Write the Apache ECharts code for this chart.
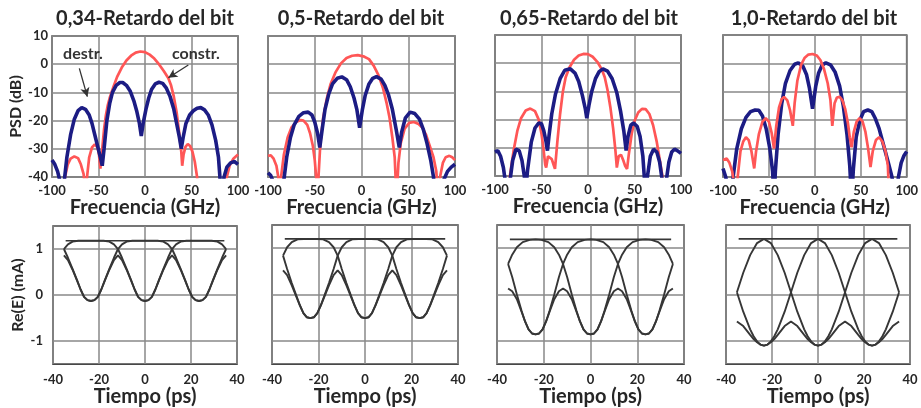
<!DOCTYPE html>
<html><head><meta charset="utf-8">
<script src="https://cdn.jsdelivr.net/npm/echarts@6/dist/echarts.min.js"></script>
<style>html,body{margin:0;padding:0;background:#fff}#c{width:921px;height:408px}</style>
</head><body><div id="c"></div>
<script>
// ---------- text ----------
const titles = ['0,34-Retardo del bit', '0,5-Retardo del bit', '0,65-Retardo del bit', '1,0-Retardo del bit'];
const psdXName = 'Frecuencia (GHz)';
const psdYName = 'PSD (dB)';
const eyeXName = 'Tiempo (ps)';
const eyeYName = 'Re(E) (mA)';
const eyeYTicks = [-1, 0, 1];
const annotDestr = 'destr.';
const annotConstr = 'constr.';

// ---------- PSD data [GHz, dB] ----------
const psdConstr034 = [[-100,-48],[-90,-46],[-86,-40],[-83,-35.5],[-80,-33.5],[-76,-32.7],[-72,-33.3],[-69,-35.5],[-66,-39],[-64,-46],[-62,-39],[-60,-33],[-57,-29.5],[-54,-28.4],[-51,-29.5],[-49.5,-32],[-48,-37],[-46,-30],[-44,-23],[-42,-18],[-40,-14.5],[-38,-12],[-36,-10],[-33.6,-7.7],[-30,-4.5],[-25,-1.2],[-20,1.3],[-15,3],[-10,4.1],[-5,4.5],[0,4.3],[5,3.4],[10,2],[15,0],[20,-2.3],[25,-4.9],[28,-7.5],[31,-11.5],[34,-17],[37,-25],[39,-31],[40,-36],[41.5,-32],[43.5,-29.3],[46,-28.3],[48.5,-29],[51,-31],[53.5,-34.5],[56,-40],[58,-47],[70,-52],[84,-46],[88,-40],[91,-36],[95,-33.5],[100,-32]];
const psdDestr034 = [[-100,-34],[-97,-35.5],[-94,-38],[-91,-42],[-89,-48],[-87,-42],[-84,-33],[-80,-25],[-76,-19.5],[-72,-16.5],[-68,-15.4],[-64,-16],[-60,-18],[-57,-21],[-54,-25],[-51,-29],[-48,-33],[-46,-36],[-44,-30],[-41,-20],[-38,-14],[-35,-10],[-31,-7.5],[-27,-6.5],[-24,-6.5],[-20,-7.5],[-16,-9.5],[-12,-13],[-9,-16.5],[-6,-21],[-4,-25.5],[-2,-21],[1,-16],[4,-12],[7,-9],[11,-7],[15,-6.4],[19,-6.8],[23,-8.5],[27,-11.5],[31,-16],[34,-21],[37,-26],[39,-30],[41,-26],[44,-21],[48,-18],[52,-16.5],[56,-15.6],[60,-15.4],[64,-16.2],[68,-18],[72,-21.5],[76,-27],[79,-33],[81,-42],[83,-46],[85,-40],[88,-36.5],[92,-35],[96,-34.5],[100,-35.5]];

const psdConstr05 = [[-100,-32.5],[-97,-32.3],[-94,-33.5],[-91,-36],[-89,-40],[-87.5,-48],[-86,-40],[-83,-32],[-79,-26],[-75,-22.5],[-70,-20.5],[-65,-19.8],[-62,-20],[-58,-21.5],[-55,-24.5],[-52,-29],[-50,-34],[-48,-42],[-47,-48],[-46,-40],[-44,-28],[-41,-19],[-37,-12],[-33,-7],[-28,-3],[-22,0.3],[-16,2.2],[-10,3],[-4,3.2],[2,2.8],[8,1.8],[13,-0.5],[18,-3.8],[23,-8.5],[27,-14],[30,-19],[33,-26],[35.5,-33],[37.5,-48],[39.5,-35],[42,-28],[46,-23],[51,-20.8],[56,-20.5],[61,-21.2],[65,-22.5],[69,-25],[73,-29],[77,-33],[80,-38],[82,-48],[84,-40],[87,-35],[90,-33],[94,-32.5],[97,-33],[100,-34]];
const psdDestr05 = [[-100,-38.5],[-97,-39.5],[-94,-42],[-90,-48],[-86,-45],[-83,-41],[-80,-33],[-76,-26],[-72,-21.5],[-67,-18.5],[-62,-17.2],[-57,-17],[-53,-18],[-50,-20.5],[-47,-24.5],[-44.6,-29.5],[-42,-23],[-39,-16],[-35,-10.5],[-31,-7],[-26,-5],[-21,-4.5],[-16,-5.5],[-12,-8],[-8,-12],[-5,-16],[-2,-22.5],[1,-16],[4,-11],[8,-7],[12,-5],[16,-4.4],[21,-5.3],[25,-7.5],[29,-11],[33,-16],[37,-23],[40.4,-29.5],[43,-24],[47,-19],[52,-17],[57,-17.5],[62,-19.5],[66,-23],[70,-28],[74,-34],[77,-40],[79,-48],[84,-46],[88,-41],[92,-38],[96,-36.5],[100,-35.5]];

const psdConstr065 = [[-100,-50],[-88,-48],[-84,-40],[-80,-31],[-76,-24],[-72,-19.5],[-67,-16.8],[-62,-16.1],[-57,-17],[-53,-20],[-50,-25],[-48,-30],[-46,-36],[-45,-37],[-43,-33],[-41,-32.5],[-39,-34],[-37,-36],[-35.5,-37.5],[-33,-28],[-30,-18],[-27,-10],[-24,-5],[-20,-1.5],[-15,1.2],[-10,2.7],[-5,3.3],[0,3.2],[5,2.3],[10,0.5],[15,-2.3],[18,-5],[21,-9.5],[24,-15.5],[27,-23],[29.5,-31],[31,-37],[33,-33],[35.5,-32.5],[38,-34.5],[40,-36.5],[42,-37.5],[44,-32],[47,-25],[50,-20.5],[54,-17.5],[58,-16.2],[62,-16.3],[66,-18],[70,-22],[74,-28],[77,-34],[80,-40],[83,-48],[100,-50]];
const psdDestr065 = [[-100,-31.5],[-97,-31],[-94,-33],[-91,-37],[-88,-44],[-86,-48],[-84,-42],[-81,-34.5],[-77.5,-30.5],[-74,-31],[-71,-34.5],[-68.5,-40],[-67,-45],[-65,-38],[-61,-28],[-57,-23],[-53,-21.2],[-50,-21.5],[-47.5,-24],[-45,-28],[-43.6,-31],[-42,-26],[-39,-18],[-35,-11],[-30,-5.5],[-25,-2.5],[-19,-2],[-14,-3.5],[-10,-6.5],[-6,-11.5],[-3,-16],[-1.3,-19.5],[1,-15],[4,-10],[8,-5.5],[12,-3],[16,-2],[21,-2.8],[26,-5.5],[31,-10.5],[35,-17],[38.5,-24],[41,-31],[43,-26],[46,-22],[49,-21.2],[53,-22.5],[56,-26],[59,-33],[61.5,-45],[64,-40],[67,-33],[70.5,-30.5],[74,-31.5],[77,-35],[80,-42],[82,-48],[84,-42],[87,-35],[90,-31.5],[93,-30.5],[96,-31],[100,-32]];

const psdConstr10 = [[-100,-34],[-96,-33.5],[-93,-35],[-90,-38],[-87,-44],[-85.5,-48],[-84,-40],[-81,-31],[-78,-27.5],[-75,-26],[-72,-27],[-69,-31],[-66,-37],[-64,-31],[-61,-25],[-57,-20.5],[-53.5,-19.3],[-50,-20.5],[-47,-24.5],[-44.5,-30],[-42,-22],[-39,-15.5],[-36,-12.5],[-33.5,-11.8],[-30,-13],[-27,-16.5],[-24,-22],[-22,-14],[-19,-6],[-15,-0.5],[-11,2],[-7,3.1],[-2.5,3.3],[2,2.8],[6,1.2],[10,-2],[14,-7],[17,-13],[19,-22],[21.5,-14],[24,-12],[27,-11.8],[30,-13],[33,-16],[36,-21],[38,-26],[40,-29.5],[42.5,-24],[45.5,-20.5],[48.7,-19.3],[52,-20.5],[55,-24],[58,-30],[60.6,-36.5],[63,-31],[66.5,-27],[70,-26],[73.5,-27.5],[77,-31],[79.5,-36],[81,-48],[100,-50]];
const psdDestr10 = [[-100,-37],[-97,-40],[-94,-46],[-91,-48],[-89,-40],[-85,-30],[-80,-23],[-75,-19],[-70,-17],[-65,-16.4],[-61,-16.5],[-57,-18.5],[-53,-23],[-49,-30],[-46,-38],[-44.4,-48],[-43,-38],[-40,-25],[-36,-14],[-32,-7],[-27,-2.5],[-22,-0.3],[-18,0.2],[-13,-1],[-9,-4],[-6,-8.5],[-2.5,-16],[1,-8],[4,-3.5],[8,-0.6],[12,0.2],[17,-0.5],[22,-3],[27,-8],[31,-15],[35,-25],[38,-36],[40,-48],[42,-37],[45,-26],[49,-20],[53,-17],[57.7,-16.4],[62,-17],[66,-19.5],[70,-23],[75,-29],[80,-35],[84,-40],[86,-46],[88,-48],[91,-40],[94,-35],[97,-32.5],[100,-31]];

// ---------- eye-diagram data ----------
// bit-slot centres (ps) and the read transition shapes: [offset from a "0" slot centre (ps), Re(E) (mA)]
const eyeSlots = [-47, -23.5, 0, 23.5, 47];
const eyePatterns = [[0,1,0,1,0],[1,0,1,0,1],[0,0,0,0,0]];
const eyeTop034 = 1.18;
const eyeRise034 = [[0,-0.13],[1.5,-0.11],[3,-0.04],[4.5,0.12],[6,0.32],[8,0.57],[10,0.81],[11.75,1.0],[13.5,1.1],[15.5,1.16],[18,1.18],[23.5,1.18]];
const eyeBump034 = [[0,-0.13],[1.5,-0.11],[3,-0.04],[4.5,0.12],[6,0.31],[8,0.55],[10,0.76],[11.75,0.86]];
const eyeTop05 = 1.2;
const eyeRise05 = [[0,-0.51],[1.5,-0.49],[3,-0.4],[4.5,-0.23],[6,-0.03],[8,0.25],[10,0.55],[11.75,0.84],[13.5,1.02],[15.5,1.13],[18,1.19],[23.5,1.2]];
const eyeBump05 = [[0,-0.51],[1.5,-0.49],[3,-0.4],[4.5,-0.24],[6,-0.05],[8,0.2],[10,0.42],[11.75,0.52]];
const eyeTop065 = 1.19;
const eyeRise065 = [[0,-0.86],[1.5,-0.84],[3,-0.75],[4.5,-0.58],[6,-0.35],[8,0.0],[10,0.38],[11.75,0.66],[13.5,0.86],[15.5,1.02],[18,1.13],[21,1.18],[23.5,1.19]];
const eyeBump065 = [[0,-0.86],[1.5,-0.84],[3,-0.75],[4.5,-0.58],[6,-0.37],[8,-0.1],[10,0.07],[11.75,0.13]];
const eyeTop10 = 1.2;
const eyeRise10 = [[0,-1.1],[1.5,-1.08],[3,-1.01],[4.5,-0.9],[6,-0.75],[9,-0.37],[11.75,0.05],[14.5,0.47],[17.5,0.85],[20.5,1.11],[23.5,1.2]];
const eyeBump10 = [[0,-1.1],[1.5,-1.08],[3,-1.03],[4.5,-0.96],[6,-0.87],[9,-0.68],[11.75,-0.58]];
const eyeWindow = [-35.3, 35.3];
const eyeRailSpan = [-34.5, 34.5];

// ---------- build ----------
function segment(rise, bump, a, b, bitA, bitB, top) {
  if (bitA === 0 && bitB === 1) return rise.map(([d, v]) => [a + d, v]);
  if (bitA === 1 && bitB === 0) return rise.map(([d, v]) => [b - d, v]).reverse();
  if (bitA === 1 && bitB === 1) return [[a, top], [b, top]];
  const left = bump.map(([d, v]) => [a + d, v]);
  const right = bump.slice(0, -1).map(([d, v]) => [b - d, v]).reverse();
  return left.concat(right);
}
function eyeTrace(rise, bump, pattern, top) {
  let pts = [];
  for (let i = 0; i < eyeSlots.length - 1; i++) {
    const seg = segment(rise, bump, eyeSlots[i], eyeSlots[i + 1], pattern[i], pattern[i + 1], top);
    if (pts.length) seg.shift();
    pts = pts.concat(seg);
  }
  return pts.filter(p => p[0] >= eyeWindow[0] && p[0] <= eyeWindow[1]);
}

const psdPanels = [
  {constr: psdConstr034, destr: psdDestr034},
  {constr: psdConstr05, destr: psdDestr05},
  {constr: psdConstr065, destr: psdDestr065},
  {constr: psdConstr10, destr: psdDestr10}
];
const eyePanels = [
  {rise: eyeRise034, bump: eyeBump034, top: eyeTop034},
  {rise: eyeRise05, bump: eyeBump05, top: eyeTop05},
  {rise: eyeRise065, bump: eyeBump065, top: eyeTop065},
  {rise: eyeRise10, bump: eyeBump10, top: eyeTop10}
];

const FONT = 'Lato, "Open Sans", "DejaVu Sans", sans-serif';
const TXT = '#262626';
const GRIDC = '#888888';
const BORDER = '#484848';
const RED = '#ff5656';
const BLUE = '#1c1c84';
const EYE = '#363636';

const topGrids = [
  {left: 52, top: 36, width: 186, height: 141},
  {left: 268, top: 36, width: 187, height: 141},
  {left: 495, top: 35, width: 186, height: 141},
  {left: 723, top: 35, width: 186, height: 142}
];
const botGrids = [
  {left: 53, top: 226, width: 184, height: 141},
  {left: 272, top: 225, width: 186, height: 142},
  {left: 497, top: 225, width: 187, height: 142},
  {left: 726, top: 225, width: 184, height: 142}
];
const titleX = [145, 361, 589, 814];

const grid = topGrids.concat(botGrids).map(g => Object.assign({show: true, borderColor: BORDER, borderWidth: 1.6, backgroundColor: '#fff'}, g));
const labelStyle = {fontFamily: FONT, fontWeight: 'bold', fontSize: 13, color: TXT};
const nameStyle = {fontFamily: FONT, fontWeight: 'bold', fontSize: 20, color: TXT};
const split = {show: true, lineStyle: {color: GRIDC, width: 1.5}};

const xAxis = [], yAxis = [], series = [];
for (let i = 0; i < 4; i++) {
  xAxis.push({gridIndex: i, type: 'value', min: -100, max: 100, interval: 50,
    axisLine: {show: false}, axisTick: {show: false}, splitLine: split,
    axisLabel: Object.assign({margin: 7}, labelStyle),
    name: psdXName, nameLocation: 'middle', nameGap: 14, nameTextStyle: nameStyle});
  yAxis.push({gridIndex: i, type: 'value', min: -40, max: 10, interval: 10,
    axisLine: {show: false}, axisTick: {show: false}, splitLine: split,
    axisLabel: Object.assign({show: i === 0, margin: 4}, labelStyle),
    name: i === 0 ? psdYName : '', nameLocation: 'middle', nameGap: 26, nameRotate: 90,
    nameTextStyle: Object.assign({}, nameStyle, {fontSize: 16})});
}
for (let i = 0; i < 4; i++) {
  const gi = 4 + i;
  xAxis.push({gridIndex: gi, type: 'value', min: -40, max: 40, interval: 20,
    axisLine: {show: false}, axisTick: {show: false}, splitLine: split,
    axisLabel: Object.assign({margin: 9}, labelStyle),
    name: eyeXName, nameLocation: 'middle', nameGap: 22, nameTextStyle: nameStyle});
  yAxis.push({gridIndex: gi, type: 'value', min: -1.5, max: 1.5,
    axisLine: {show: false}, axisTick: {show: false, customValues: eyeYTicks}, splitLine: split,
    axisLabel: Object.assign({show: i === 0, margin: 10, customValues: eyeYTicks}, labelStyle),
    name: i === 0 ? eyeYName : '', nameLocation: 'middle', nameGap: 27, nameRotate: 90,
    nameTextStyle: Object.assign({}, nameStyle, {fontSize: 16})});
}

psdPanels.forEach((p, i) => {
  series.push({type: 'line', xAxisIndex: i, yAxisIndex: i, data: p.constr, showSymbol: false, symbol: 'none',
    lineStyle: {color: RED, width: 2.7}, z: i === 3 ? 4 : 2, clip: true});
  const blue = {type: 'line', xAxisIndex: i, yAxisIndex: i, data: p.destr, showSymbol: false, symbol: 'none',
    lineStyle: {color: BLUE, width: 3.6}, z: 3, clip: true};
  if (i === 0) {
    blue.markLine = {silent: true, symbol: ['none', 'arrow'], symbolSize: [7, 9], animation: false,
      lineStyle: {color: '#333', width: 1.3, type: 'solid'}, label: {show: false},
      data: [[{coord: [-70.6, -1.5]}, {coord: [-62, -11.5]}], [{coord: [46.6, -0.3]}, {coord: [25.1, -4.8]}]]};
    blue.markPoint = {silent: true, symbol: 'circle', symbolSize: 1, itemStyle: {color: 'rgba(0,0,0,0)'}, animation: false,
      label: {show: true, position: 'inside', formatter: '{b}', fontFamily: FONT, fontWeight: 'bold', fontSize: 16, color: '#333'},
      data: [{name: annotDestr, coord: [-66.7, 3.6]}, {name: annotConstr, coord: [54.8, 3.6]}]};
  }
  series.push(blue);
});

eyePanels.forEach((p, i) => {
  const gi = 4 + i;
  series.push({type: 'line', xAxisIndex: gi, yAxisIndex: gi, data: [[eyeRailSpan[0], p.top], [eyeRailSpan[1], p.top]],
    showSymbol: false, symbol: 'none', lineStyle: {color: EYE, width: 1.6}});
  eyePatterns.forEach(pat => {
    series.push({type: 'line', xAxisIndex: gi, yAxisIndex: gi, data: eyeTrace(p.rise, p.bump, pat, p.top),
      showSymbol: false, symbol: 'none', lineStyle: {color: EYE, width: 1.9}});
  });
});

const graphic = titles.map((t, i) => ({type: 'text', x: titleX[i], y: 19,
  style: {text: t, align: 'center', verticalAlign: 'middle', font: 'bold 20px ' + FONT, fill: TXT}}));

const chart = echarts.init(document.getElementById('c'));
chart.setOption({animation: false, backgroundColor: '#fff', grid, xAxis, yAxis, series, graphic});
</script>
</body></html>
